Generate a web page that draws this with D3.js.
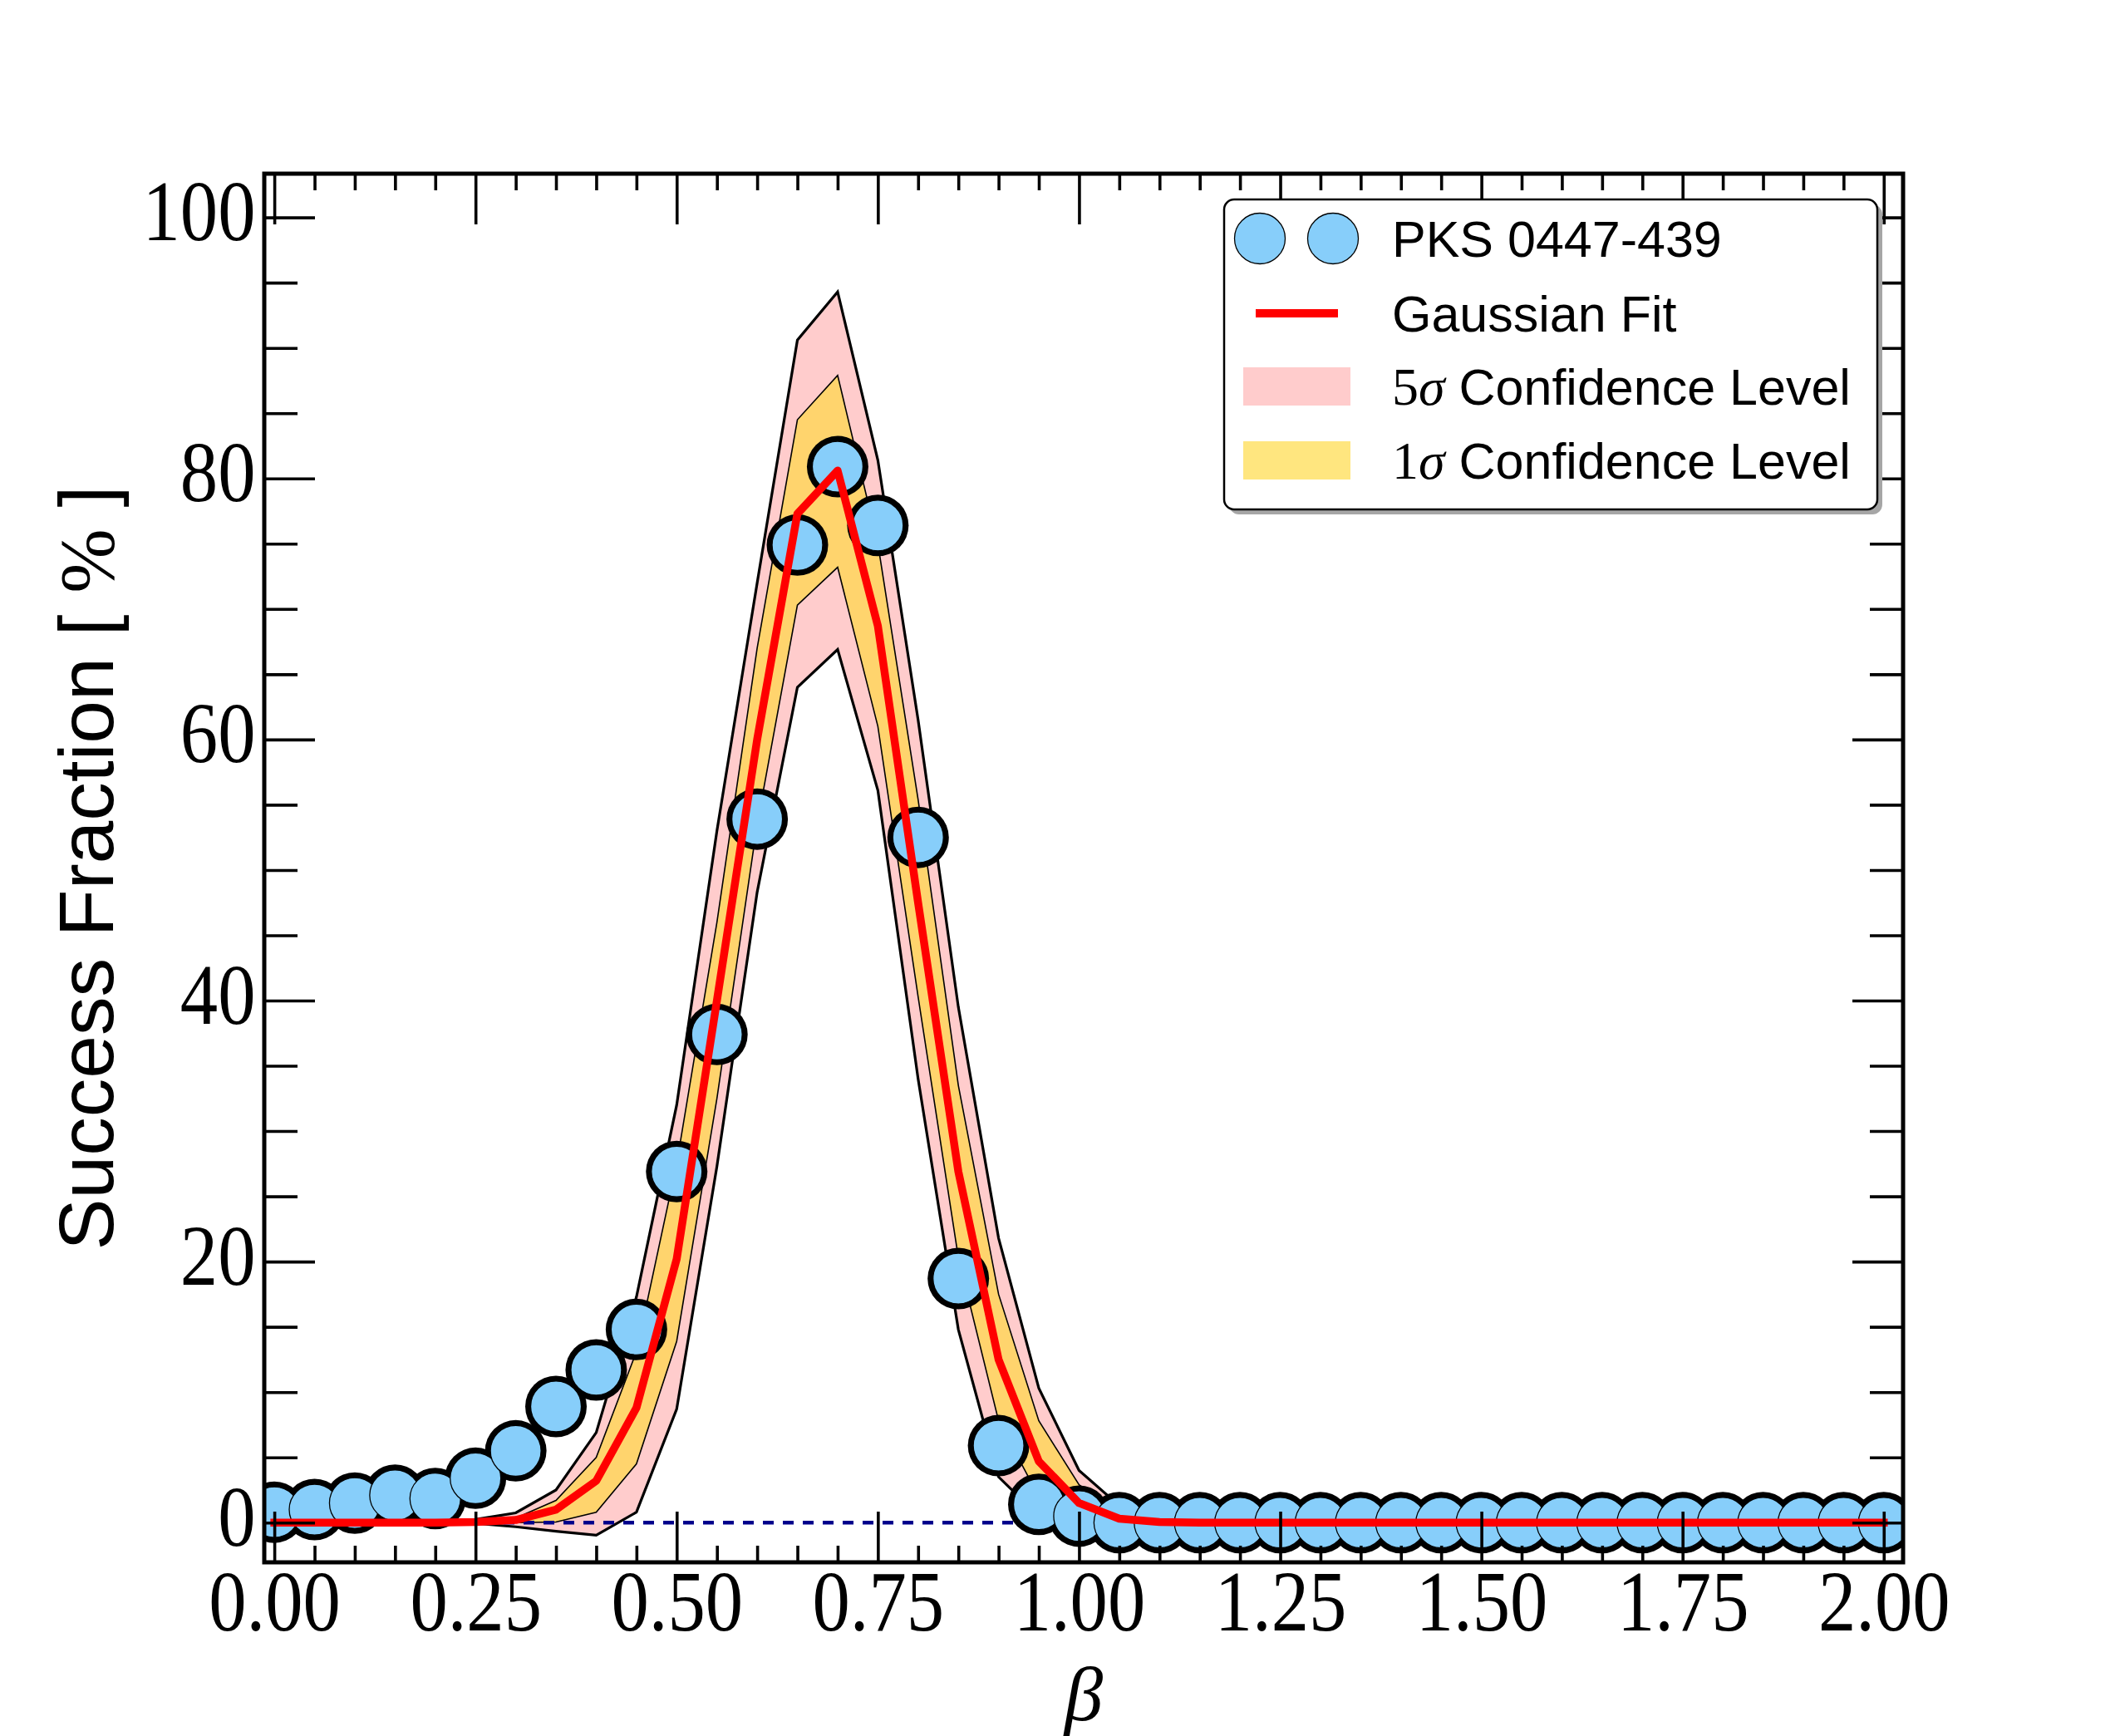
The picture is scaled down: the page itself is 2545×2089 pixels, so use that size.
<!DOCTYPE html>
<html>
<head>
<meta charset="utf-8">
<script src="https://cdn.jsdelivr.net/npm/d3@7"></script>
<style>
  html, body { margin: 0; padding: 0; background: #fff; }
  svg { display: block; }
  text { white-space: pre; }
</style>
</head>
<body>
<svg id="chart" width="2545" height="2089"></svg>
<script>
// beta grid (x values of every point)
const betaValues = [
  0.00, 0.05, 0.10, 0.15, 0.20, 0.25, 0.30, 0.35, 0.40, 0.45,
  0.50, 0.55, 0.60, 0.65, 0.70, 0.75, 0.80, 0.85, 0.90, 0.95,
  1.00, 1.05, 1.10, 1.15, 1.20, 1.25, 1.30, 1.35, 1.40, 1.45,
  1.50, 1.55, 1.60, 1.65, 1.70, 1.75, 1.80, 1.85, 1.90, 1.95, 2.00
];

// PKS 0447-439 success fraction [%]
const successFraction = [
  0.8, 1.0, 1.5, 2.1, 1.85, 3.4, 5.5, 8.9, 11.7, 14.8,
  26.9, 37.4, 53.9, 74.9, 80.9, 76.4, 52.5, 18.7, 5.9, 1.4,
  0.5, 0, 0, 0, 0, 0, 0, 0, 0, 0,
  0, 0, 0, 0, 0, 0, 0, 0, 0, 0, 0
];

// gaussian fit curve
const gaussFit = [
  0, 0, 0, 0, 0, 0.05, 0.2, 1.0, 3.2, 8.8,
  20.2, 40.0, 60.0, 77.3, 80.6, 68.7, 47.5, 26.9, 12.5, 4.7,
  1.5, 0.3, 0.05, 0, 0, 0, 0, 0, 0, 0,
  0, 0, 0, 0, 0, 0, 0, 0, 0, 0, 0
];

// confidence bands
const sigma5Upper = [
  0, 0, 0, 0, 0, 0.25, 0.75, 2.5, 6.9, 17.3,
  32.0, 53.0, 72.0, 90.6, 94.3, 81.4, 61.5, 39.5, 21.8, 10.3,
  4.0, 1.3, 0.3, 0, 0, 0, 0, 0, 0, 0,
  0, 0, 0, 0, 0, 0, 0, 0, 0, 0, 0
];
const sigma5Lower = [
  0, 0, 0, 0, 0, -0.06, -0.32, -0.66, -0.96, 0.8,
  8.7, 27.3, 48.3, 64.0, 66.9, 56.1, 34.0, 14.8, 3.5, 0.5,
  0, 0, 0, 0, 0, 0, 0, 0, 0, 0,
  0, 0, 0, 0, 0, 0, 0, 0, 0, 0, 0
];
const sigma1Upper = [
  0, 0, 0, 0, 0, 0.1, 0.35, 1.7, 5.0, 13.1,
  27.5, 46.0, 67.0, 84.5, 87.9, 75.0, 55.4, 33.5, 17.5, 7.8,
  2.9, 0.8, 0.15, 0, 0, 0, 0, 0, 0, 0,
  0, 0, 0, 0, 0, 0, 0, 0, 0, 0, 0
];
const sigma1Lower = [
  0, 0, 0, 0, 0, 0, 0, 0.05, 0.8, 4.5,
  13.9, 32.5, 53.5, 70.3, 73.2, 61.0, 40.3, 20.3, 7.8, 2.0,
  0.5, 0.05, 0, 0, 0, 0, 0, 0, 0, 0,
  0, 0, 0, 0, 0, 0, 0, 0, 0, 0, 0
];

// ticks
const xMajorTicks = [0, 0.25, 0.5, 0.75, 1.0, 1.25, 1.5, 1.75, 2.0];
const yMajorTicks = [0, 20, 40, 60, 80, 100];
const legendLabels = ["PKS 0447-439", "Gaussian Fit", "Confidence Level", "Confidence Level"];

const svg = d3.select("#chart"),
      width = +svg.attr("width"),
      height = +svg.attr("height");
const frame = {left: 318, right: 2290, top: 209, bottom: 1880};

const xScale = d3.scaleLinear().domain([-0.0125, 2.024]).range([frame.left, frame.right]);
const yScale = d3.scaleLinear().domain([-3.04, 103.35]).range([frame.bottom, frame.top]);

svg.append("rect").attr("width", width).attr("height", height).attr("fill", "#fff");

svg.append("clipPath").attr("id", "plotClip")
  .append("rect")
    .attr("x", frame.left).attr("y", frame.top)
    .attr("width", frame.right - frame.left)
    .attr("height", frame.bottom - frame.top);

const plot = svg.append("g").attr("clip-path", "url(#plotClip)");

const rows = betaValues.map((b, i) => ({
  beta: b, frac: successFraction[i], fit: gaussFit[i],
  s5lo: sigma5Lower[i], s5hi: sigma5Upper[i],
  s1lo: sigma1Lower[i], s1hi: sigma1Upper[i]
}));

// 5 sigma band
const area5 = d3.area()
    .x(d => xScale(d.beta))
    .y0(d => yScale(d.s5lo))
    .y1(d => yScale(d.s5hi));
plot.append("path")
    .datum(rows)
    .attr("d", area5)
    .attr("fill", "#ffcccc")
    .attr("stroke", "#000")
    .attr("stroke-width", 3.2)
    .attr("stroke-linejoin", "miter");

// 1 sigma band
const area1 = d3.area()
    .x(d => xScale(d.beta))
    .y0(d => yScale(d.s1lo))
    .y1(d => yScale(d.s1hi));
plot.append("path")
    .datum(rows)
    .attr("d", area1)
    .attr("fill", "rgb(255,216,59)")
    .attr("fill-opacity", 0.65)
    .attr("stroke", "#000")
    .attr("stroke-width", 1.6);

// zero line
plot.append("line")
    .attr("x1", frame.left).attr("x2", frame.right)
    .attr("y1", yScale(0)).attr("y2", yScale(0))
    .attr("stroke", "#00008b")
    .attr("stroke-width", 4.5)
    .attr("stroke-dasharray", "13,11");

// data points: thick black outline underneath, then blue markers
plot.append("g").selectAll("circle")
  .data(rows).join("circle")
    .attr("cx", d => xScale(d.beta))
    .attr("cy", d => yScale(d.frac))
    .attr("r", 37)
    .attr("fill", "#000");
plot.append("g").selectAll("circle")
  .data(rows).join("circle")
    .attr("cx", d => xScale(d.beta))
    .attr("cy", d => yScale(d.frac))
    .attr("r", 30.5)
    .attr("fill", "#87cefa")
    .attr("stroke", "#000")
    .attr("stroke-width", 1.3);

// gaussian fit
const fitLine = d3.line()
    .x(d => xScale(d.beta))
    .y(d => yScale(d.fit));
plot.append("path")
    .datum(rows)
    .attr("d", fitLine)
    .attr("fill", "none")
    .attr("stroke", "#ff0000")
    .attr("stroke-width", 9.5)
    .attr("stroke-linejoin", "round")
    .attr("stroke-linecap", "square");

// axes, ticks pointing inward on all sides
const xMinorTicks = d3.range(0, 2.001, 0.05).filter(v => Math.abs(v / 0.25 - Math.round(v / 0.25)) > 1e-6);
const yMinorTicks = d3.range(0, 101, 5).filter(v => v % 20 !== 0);
const majorLen = 61, xMinorLen = 20, yMinorLen = 40;

function addAxis(axis, tx, ty) {
  const g = svg.append("g")
      .attr("transform", `translate(${tx},${ty})`)
      .call(axis);
  g.select(".domain").remove();
  g.selectAll(".tick line").attr("stroke", "#000").attr("stroke-width", 3.6);
  return g;
}

const xBottom = addAxis(d3.axisBottom(xScale).tickValues(xMajorTicks).tickSize(-majorLen)
    .tickFormat(d3.format(".2f")), 0, frame.bottom);
addAxis(d3.axisBottom(xScale).tickValues(xMinorTicks).tickSize(-xMinorLen).tickFormat(""), 0, frame.bottom);
addAxis(d3.axisTop(xScale).tickValues(xMajorTicks).tickSize(-majorLen).tickFormat(""), 0, frame.top);
addAxis(d3.axisTop(xScale).tickValues(xMinorTicks).tickSize(-xMinorLen).tickFormat(""), 0, frame.top);

const yLeft = addAxis(d3.axisLeft(yScale).tickValues(yMajorTicks).tickSize(-majorLen)
    .tickFormat(d3.format("d")), frame.left, 0);
addAxis(d3.axisLeft(yScale).tickValues(yMinorTicks).tickSize(-yMinorLen).tickFormat(""), frame.left, 0);
addAxis(d3.axisRight(yScale).tickValues(yMajorTicks).tickSize(-majorLen).tickFormat(""), frame.right, 0);
addAxis(d3.axisRight(yScale).tickValues(yMinorTicks).tickSize(-yMinorLen).tickFormat(""), frame.right, 0);

xBottom.selectAll(".tick text")
    .attr("y", 82)
    .attr("dy", 0)
    .attr("fill", "#000")
    .attr("transform", "scale(0.88,1)")
    .style("font-family", "'Liberation Serif', serif")
    .style("font-size", "103px");

yLeft.selectAll(".tick text")
    .attr("x", -12)
    .attr("dy", 0)
    .attr("y", 27)
    .attr("fill", "#000")
    .attr("transform", "scale(0.88,1)")
    .style("font-family", "'Liberation Serif', serif")
    .style("font-size", "103px");

// frame
svg.append("rect")
    .attr("x", frame.left).attr("y", frame.top)
    .attr("width", frame.right - frame.left)
    .attr("height", frame.bottom - frame.top)
    .attr("fill", "none")
    .attr("stroke", "#000")
    .attr("stroke-width", 5);

// axis labels
svg.append("text")
    .attr("x", (frame.left + frame.right) / 2)
    .attr("y", 2070)
    .attr("text-anchor", "middle")
    .style("font-family", "'Liberation Serif', serif")
    .style("font-style", "italic")
    .style("font-size", "93px")
    .text("β");

const yLab = svg.append("text")
    .attr("transform", `translate(136,${(frame.top + frame.bottom) / 2}) rotate(-90)`)
    .attr("text-anchor", "middle")
    .style("font-family", "'Liberation Sans', Arial, sans-serif")
    .style("font-size", "93px");
yLab.append("tspan").text("Success Fraction [ ");
yLab.append("tspan").style("font-family", "'Liberation Serif', serif").text("%");
yLab.append("tspan").text(" ]");

// legend
const lg = svg.append("g");
const box = {x: 1473, y: 240, w: 786, h: 373};
lg.append("rect")
    .attr("x", box.x + 6).attr("y", box.y + 6)
    .attr("width", box.w).attr("height", box.h)
    .attr("rx", 12)
    .attr("fill", "#a6a6a6");
lg.append("rect")
    .attr("x", box.x).attr("y", box.y)
    .attr("width", box.w).attr("height", box.h)
    .attr("rx", 12)
    .attr("fill", "#fff")
    .attr("stroke", "#000")
    .attr("stroke-width", 2.5);

const rowY = [287, 377, 465, 554];
const textX = 1675;

[1516, 1604].forEach(cx => {
  lg.append("circle")
      .attr("cx", cx).attr("cy", rowY[0]).attr("r", 30.5)
      .attr("fill", "#87cefa").attr("stroke", "#000").attr("stroke-width", 1.3);
});
lg.append("line")
    .attr("x1", 1511).attr("x2", 1610)
    .attr("y1", rowY[1]).attr("y2", rowY[1])
    .attr("stroke", "#ff0000").attr("stroke-width", 10);
lg.append("rect")
    .attr("x", 1496).attr("y", rowY[2] - 23).attr("width", 129).attr("height", 46)
    .attr("fill", "#ffcccc");
lg.append("rect")
    .attr("x", 1496).attr("y", rowY[3] - 23).attr("width", 129).attr("height", 46)
    .attr("fill", "rgb(255,216,59)").attr("fill-opacity", 0.65);

const sans = "'Liberation Sans', Arial, sans-serif";
const serif = "'Liberation Serif', serif";
lg.append("text").attr("x", textX).attr("y", rowY[0] + 22)
    .style("font-family", sans).style("font-size", "61px").text(legendLabels[0]);
lg.append("text").attr("x", textX).attr("y", rowY[1] + 22)
    .style("font-family", sans).style("font-size", "61px").text(legendLabels[1]);

[["5", 2], ["1", 3]].forEach(([n, k]) => {
  const t = lg.append("text").attr("x", textX).attr("y", rowY[k] + 22)
      .style("font-family", sans).style("font-size", "61px");
  t.append("tspan").style("font-family", serif).style("font-size", "64px").text(n);
  t.append("tspan").style("font-family", serif).style("font-style", "italic").style("font-size", "64px").text("σ");
  t.append("tspan").text(" " + legendLabels[k]);
});
</script>
</body>
</html>
